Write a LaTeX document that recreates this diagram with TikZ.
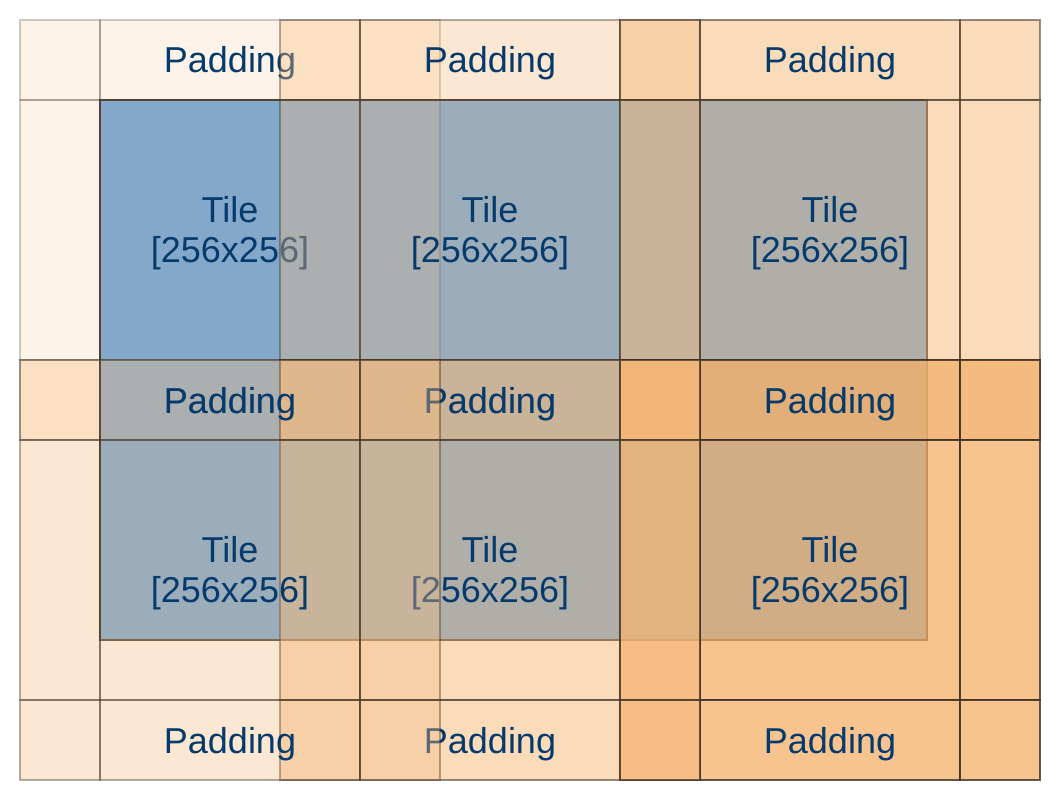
\documentclass[tikz,border=0pt]{standalone}
\usepackage{fontspec}
\setmainfont{Liberation Sans}
\usetikzlibrary{positioning}
\definecolor{padorange}{RGB}{240,138,32}
\definecolor{imgblue}{RGB}{104,163,218}
\definecolor{gridline}{RGB}{60,50,40}
\definecolor{labelblue}{RGB}{5,58,108}
\tikzset{lbl/.style={text=labelblue, font=\fontsize{36}{40}\selectfont, inner sep=0pt}}
\tikzset{padcell/.style={fill=padorange, draw=gridline, line width=1.9pt}}
\tikzset{padwash/.style={fill=white}}
\tikzset{imgbox/.style={fill=imgblue, draw=gridline, line width=1.9pt}}
% #1 name, #2/#3 tile corner, #4 fill opacity, #5 line opacity
\newcommand\padtile[5]{
				\fill[padwash, fill opacity=#4] ({#2-80},{#3-80}) rectangle ({#2+340},{#3+340});
				\foreach \xa/\xb in {-80/0, 0/260, 260/340}
					\foreach \ya/\yb in {-80/0, 0/260, 260/340}
						\draw[padcell, fill opacity=#4, draw opacity=#5]
							({#2+\xa},{#3+\ya}) rectangle ({#2+\xb},{#3+\yb});
				\node[lbl, anchor=base] (#1-top) at ({#2+130},{#3-27}) {Padding};
				\node[lbl, anchor=base] (#1-bot) at ({#2+130},{#3+313}) {Padding};
				\node[lbl, anchor=base] (#1-tile) at ({#2+130},{#3+122}) {Tile};
				\node[lbl, anchor=base] (#1-size) at ({#2+130},{#3+162}) {[256x256]};
				}

\begin{document}
\begin{tikzpicture}[x=1pt, y=-1pt]
	\useasboundingbox (0,0) rectangle (1060,800);
	\draw[imgbox] (100,100) rectangle (927,640);

	\padtile{p11}{100}{100}{.1}{.25}
	\padtile{p12}{360}{100}{.2}{.4}
	\padtile{p13}{700}{100}{.3}{.55}
	\padtile{p23}{700}{440}{.5}{.8}
	\padtile{p22}{360}{440}{.3}{.55}
	\padtile{p21}{100}{440}{.2}{.4}
\end{tikzpicture}
\end{document}
